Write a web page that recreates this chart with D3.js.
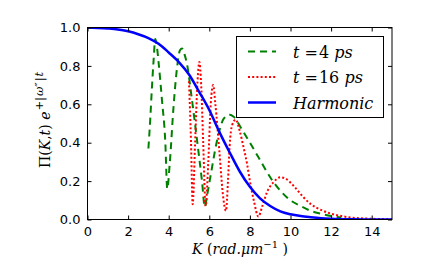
<!doctype html>
<html>
<head>
<script src="https://cdnjs.cloudflare.com/ajax/libs/d3/7.8.5/d3.min.js"></script>
<style>
  body { margin: 0; background: #fff; }
</style>
</head>
<body>
<svg width="436" height="275"></svg>
<script>
// harmonic curve
var harmK = [0, 0.5, 1, 1.5, 2, 2.5, 3, 3.5, 4, 4.5, 5, 5.5, 6, 6.5, 7, 7.5, 8, 8.5, 9, 9.5, 10, 10.5, 11, 11.5, 12, 13, 14, 15];
var harmV = [1, 0.998, 0.995, 0.99, 0.98, 0.965, 0.945, 0.915, 0.87, 0.82, 0.755, 0.665, 0.57, 0.455, 0.35, 0.25, 0.17, 0.11, 0.07, 0.042, 0.027, 0.018, 0.012, 0.007, 0.004, 0.001, 0, 0];

// t = 4 ps
var t4K = [3.0, 3.09, 3.17, 3.25, 3.34, 3.42, 3.5, 3.67, 3.83, 3.93, 4.05, 4.24, 4.41, 4.55, 4.66, 4.78, 4.9, 5.15, 5.4, 5.64, 5.78, 5.9, 6.05, 6.38, 6.71, 7.0, 7.2, 7.6, 8.0, 8.5, 9.0, 9.5, 10.0, 10.5, 11.0, 11.5, 12.0, 12.5];
var t4V = [0.37, 0.52, 0.68, 0.82, 0.94, 0.9, 0.82, 0.62, 0.41, 0.16, 0.29, 0.59, 0.79, 0.88, 0.89, 0.86, 0.81, 0.62, 0.41, 0.2, 0.065, 0.13, 0.22, 0.41, 0.525, 0.545, 0.535, 0.47, 0.4, 0.31, 0.22, 0.15, 0.1, 0.07, 0.045, 0.03, 0.018, 0.01];

// t = 16 ps
var t16K = [5.0, 5.1, 5.18, 5.3, 5.42, 5.51, 5.6, 5.7, 5.82, 5.95, 6.07, 6.19, 6.3, 6.5, 6.68, 6.82, 6.92, 7.0, 7.12, 7.3, 7.5, 7.7, 7.86, 8.0, 8.19, 8.42, 8.6, 8.85, 9.18, 9.5, 9.8, 10.2, 10.6, 11.0, 11.5, 12.0, 12.5, 13.0, 13.5, 14.0, 14.5, 15.0];
var t16V = [0.72, 0.4, 0.08, 0.4, 0.72, 0.82, 0.7, 0.4, 0.07, 0.3, 0.6, 0.7, 0.6, 0.35, 0.12, 0.045, 0.2, 0.38, 0.49, 0.52, 0.46, 0.37, 0.29, 0.2, 0.1, 0.015, 0.066, 0.144, 0.196, 0.22, 0.21, 0.17, 0.12, 0.08, 0.05, 0.03, 0.018, 0.01, 0.006, 0.004, 0.002, 0.001];

var xTicks = [0, 2, 4, 6, 8, 10, 12, 14];
var yTicks = [0, 0.2, 0.4, 0.6, 0.8, 1.0];

var svg = d3.select("svg");
var pl = 87.5, pr = 392, pt = 27.5, pb = 219.5;

var x = d3.scaleLinear().domain([0, 15]).range([pl, pr]);
var y = d3.scaleLinear().domain([0, 1]).range([pb, pt]);

svg.append("clipPath").attr("id", "plotclip")
  .append("rect").attr("x", pl).attr("y", pt).attr("width", pr - pl).attr("height", pb - pt);

var line = d3.line()
  .x(d => x(d[0]))
  .y(d => y(d[1]))
  .curve(d3.curveMonotoneX);

var plot = svg.append("g").attr("clip-path", "url(#plotclip)");

plot.append("path")
  .datum(d3.zip(t4K, t4V))
  .attr("d", line)
  .attr("fill", "none")
  .attr("stroke", "#008000")
  .attr("stroke-width", 2)
  .attr("stroke-dasharray", "7,5");

plot.append("path")
  .datum(d3.zip(t16K, t16V))
  .attr("d", line)
  .attr("fill", "none")
  .attr("stroke", "#ff0000")
  .attr("stroke-width", 2)
  .attr("stroke-dasharray", "2,2.2");

plot.append("path")
  .datum(d3.zip(harmK, harmV))
  .attr("d", line)
  .attr("fill", "none")
  .attr("stroke", "#0000ff")
  .attr("stroke-width", 2.5);

// axes, ticks inside on all four sides
var xAxisB = d3.axisBottom(x).tickValues(xTicks).tickSizeInner(-4).tickSizeOuter(0).tickPadding(7).tickFormat(d3.format("d"));
var xAxisT = d3.axisTop(x).tickValues(xTicks).tickSizeInner(-4).tickSizeOuter(0).tickFormat("");
var yAxisL = d3.axisLeft(y).tickValues(yTicks).tickSizeInner(-4).tickSizeOuter(0).tickPadding(7).tickFormat(d3.format(".1f"));
var yAxisR = d3.axisRight(y).tickValues(yTicks).tickSizeInner(-4).tickSizeOuter(0).tickFormat("");

function styleAxis(g) {
  g.select(".domain").remove();
  g.selectAll("line").attr("stroke", "#000");
  g.selectAll("text").attr("font-size", 13).attr("fill", "#000").attr("font-family", "DejaVu Sans");
}

svg.append("g").attr("transform", "translate(0," + pb + ")").call(xAxisB).call(styleAxis);
svg.append("g").attr("transform", "translate(0," + pt + ")").call(xAxisT).call(styleAxis);
svg.append("g").attr("transform", "translate(" + pl + ",0)").call(yAxisL).call(styleAxis);
svg.append("g").attr("transform", "translate(" + pr + ",0)").call(yAxisR).call(styleAxis);

svg.append("rect")
  .attr("x", pl).attr("y", pt)
  .attr("width", pr - pl).attr("height", pb - pt)
  .attr("fill", "none").attr("stroke", "#000").attr("stroke-width", 1);

// legend
var legend = svg.append("g");
legend.append("rect")
  .attr("x", 236.5).attr("y", 36.5).attr("width", 147).attr("height", 81)
  .attr("fill", "#fff").attr("stroke", "#000").attr("stroke-width", 1);

var legItems = [
  {label: ["t", " =", "4 ", "ps"], color: "#008000", dash: "7,5", w: 2},
  {label: ["t", " =", "16 ", "ps"], color: "#ff0000", dash: "2,2.2", w: 2},
  {label: ["Harmonic"], color: "#0000ff", dash: null, w: 2.5}
];

legItems.forEach(function(item, i) {
  var yy = 51.5 + i * 25.5;
  legend.append("line")
    .attr("x1", 248).attr("x2", 276).attr("y1", yy).attr("y2", yy)
    .attr("stroke", item.color).attr("stroke-width", item.w)
    .attr("stroke-dasharray", item.dash);
  var t = legend.append("text").attr("x", 293).attr("y", yy + 6)
    .attr("font-size", 16).attr("font-family", "DejaVu Serif");
  if (item.label.length === 1) {
    t.append("tspan").attr("font-style", "italic").text(item.label[0]);
  } else {
    t.append("tspan").attr("font-style", "italic").text(item.label[0]);
    t.append("tspan").text(item.label[1]);
    t.append("tspan").attr("dx", 1).text(item.label[2]);
    t.append("tspan").attr("font-style", "italic").text(item.label[3]);
  }
});

// x label
var xl = svg.append("text").attr("x", 240).attr("y", 254).attr("text-anchor", "middle")
  .attr("font-size", 14).attr("font-family", "DejaVu Serif");
xl.append("tspan").attr("font-style", "italic").text("K");
xl.append("tspan").text(" (");
xl.append("tspan").attr("font-style", "italic").text("rad.μm");
xl.append("tspan").attr("font-size", 10).attr("dy", -6).text("−1");
xl.append("tspan").attr("dy", 6).text(" )");

// y label, starts near the bottom of the label area and runs upward
var yl = svg.append("text")
  .attr("transform", "translate(50,168) rotate(-90)")
  .attr("text-anchor", "start")
  .attr("font-size", 14).attr("font-family", "DejaVu Serif");
yl.append("tspan").text("Π(");
yl.append("tspan").attr("font-style", "italic").text("K");
yl.append("tspan").text(",");
yl.append("tspan").attr("font-style", "italic").text("t");
yl.append("tspan").text(") ");
yl.append("tspan").attr("font-style", "italic").text("e");
yl.append("tspan").attr("font-size", 11.5).attr("dy", -7).attr("dx", 1).text("+|");
yl.append("tspan").attr("font-size", 11.5).attr("font-style", "italic").attr("dx", 1).text("ω″");
yl.append("tspan").attr("font-size", 11.5).attr("dx", 1).text("|");
yl.append("tspan").attr("font-size", 11.5).attr("font-style", "italic").attr("dx", 1).text("t");
</script>
</body>
</html>
